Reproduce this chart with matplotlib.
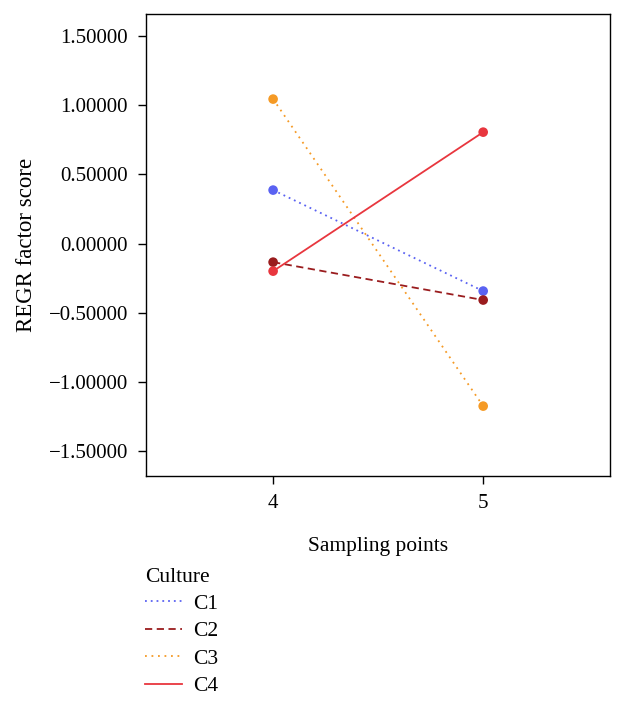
"""REGR factor score by sampling point for each culture."""

import matplotlib

matplotlib.use("Agg")

import matplotlib.pyplot as plt
import numpy as np
from matplotlib.ticker import FuncFormatter

sampling_points = [4, 5]
cultures = ["C1", "C2", "C3", "C4"]
c1_scores = [0.387, -0.343]
c2_scores = [-0.134, -0.408]
c3_scores = [1.045, -1.175]
c4_scores = [-0.199, 0.806]

series = [c1_scores, c2_scores, c3_scores, c4_scores]
colors = ["#5a62f2", "#9a1c1e", "#f59a25", "#e8363e"]
styles = [(0, (1, 2.2)), (0, (4, 2.5)), (0, (1, 2.6)), "-"]

plt.rcParams["font.family"] = ["Liberation Serif", "DejaVu Serif"]
plt.rcParams["font.size"] = 15

fig = plt.figure(figsize=(6.24, 7.02), dpi=100)
ax = fig.add_axes([0.234, 0.322, 0.744, 0.658])

handles = []
for name, values, color, style in zip(cultures, series, colors, styles):
    (line,) = ax.plot(sampling_points, values, color=color, linestyle=style,
                      linewidth=1.3, label=name)
    ax.scatter(sampling_points, values, color=color, s=48, zorder=3,
               edgecolors="none")
    handles.append(line)


def score_label(value, _pos):
    text = f"{abs(value):.5f}"
    return "\u2212" + text if value < -1e-9 else text


ax.set_xlim(3.395, 5.605)
ax.set_ylim(-1.68, 1.66)
ax.set_xticks(sampling_points)
ax.set_yticks(np.arange(-1.5, 1.51, 0.5))
ax.yaxis.set_major_formatter(FuncFormatter(score_label))
ax.tick_params(direction="out", length=6, width=1, pad=7, labelsize=15)
for spine in ax.spines.values():
    spine.set_linewidth(1)
ax.set_xlabel("Sampling points", fontsize=15.5, labelpad=17)
ax.set_ylabel("REGR factor score", fontsize=16.5, labelpad=8)

legend = fig.legend(handles=handles, labels=cultures, title="Culture",
                    loc="upper left", bbox_to_anchor=(0.201, 0.219),
                    frameon=False, fontsize=15.5, title_fontsize=15.5,
                    handlelength=1.75, handletextpad=0.5, labelspacing=0.34,
                    alignment="left")
legend._legend_title_box.sep = 6
legend._legend_title_box.pad = 0

fig.savefig("out.png", dpi=100)
